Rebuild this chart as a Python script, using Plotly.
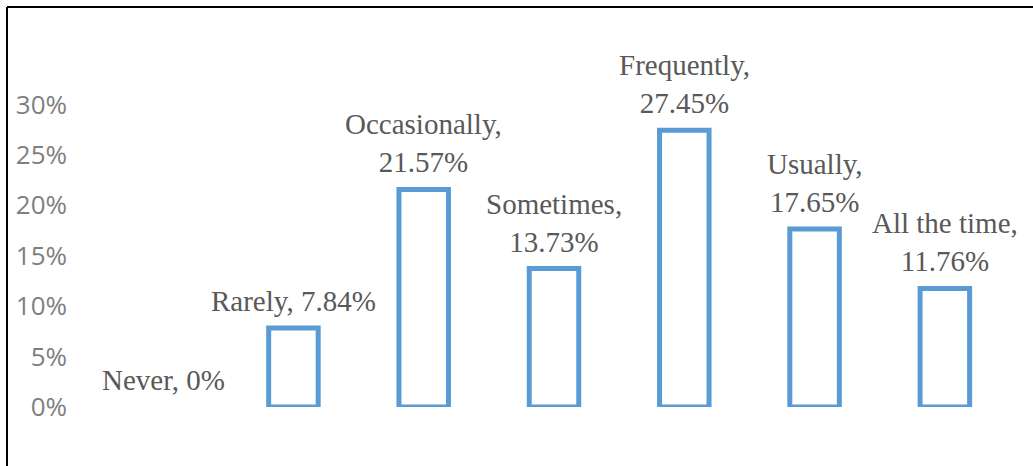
import plotly.graph_objects as go

categories = ["Never", "Rarely", "Occasionally", "Sometimes", "Frequently", "Usually", "All the time"]
values = [0.0, 0.0784, 0.2157, 0.1373, 0.2745, 0.1765, 0.1176]
label_texts = ["Never, 0%", "Rarely, 7.84%", "Occasionally,<br>21.57%", "Sometimes,<br>13.73%",
               "Frequently,<br>27.45%", "Usually,<br>17.65%", "All the time,<br>11.76%"]
tick_vals = [0, 0.05, 0.10, 0.15, 0.20, 0.25, 0.30]
tick_text = ["0%", "5%", "10%", "15%", "20%", "25%", "30%"]

W, H = 1033, 466
ML, MR, MT, MB = 98, 23, 54, 59

# zero-height bars draw no outline
line_widths = [0 if v == 0 else 5 for v in values]

fig = go.Figure()
fig.add_trace(go.Bar(
    x=categories, y=values, width=0.38,
    marker=dict(color="white", line=dict(color="#5B9BD5", width=line_widths)),
    hoverinfo="skip", cliponaxis=False,
))

for c, v, t in zip(categories, values, label_texts):
    fig.add_annotation(x=c, y=v, text=t, showarrow=False, xanchor="center", yanchor="bottom",
                       yshift=9, font=dict(family="Liberation Serif", size=29, color="#595959"))

pw = W - ML - MR
ph = H - MT - MB
def px2paper_x(px):
    return (px - ML) / pw
def px2paper_y(py):
    return (H - MB - py) / ph

fig.add_shape(type="line", xref="paper", yref="paper",
              x0=px2paper_x(7), x1=px2paper_x(1040), y0=px2paper_y(7), y1=px2paper_y(7),
              line=dict(color="black", width=2))
fig.add_shape(type="line", xref="paper", yref="paper",
              x0=px2paper_x(7), x1=px2paper_x(7), y0=px2paper_y(7), y1=px2paper_y(470),
              line=dict(color="black", width=2))

fig.update_layout(
    width=W, height=H, margin=dict(l=ML, r=MR, t=MT, b=MB),
    plot_bgcolor="white", paper_bgcolor="white", showlegend=False,
    xaxis=dict(showticklabels=False, showgrid=False, zeroline=False, showline=False,
               range=[-0.5, 6.5]),
    yaxis=dict(range=[0, 0.35], tickvals=tick_vals, ticktext=tick_text, showgrid=False,
               zeroline=False, showline=False, ticks="", ticklabelstandoff=30,
               tickfont=dict(family="Open Sans", size=26, color="#7f7f7f")),
)
fig.write_html("out.html")
